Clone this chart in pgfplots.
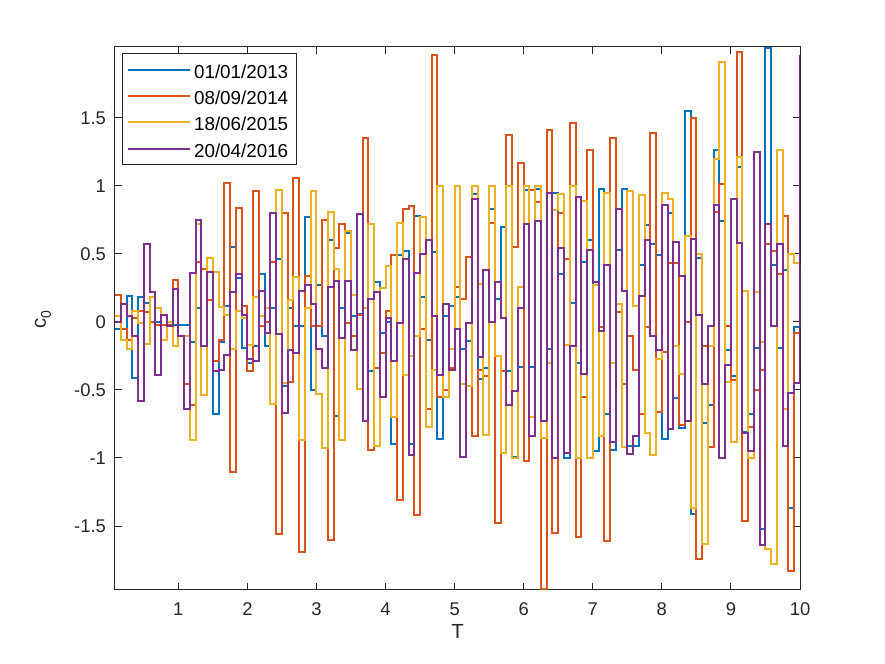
\documentclass[border=0pt]{standalone}
\usepackage{fontspec}
\setmainfont{Liberation Sans}
\usepackage{pgfplots}
\usepackage{pgfplotstable}
\pgfplotsset{compat=1.18}
\definecolor{mblue}{rgb}{0,0.447,0.741}
\definecolor{morange}{rgb}{0.85,0.325,0.098}
\definecolor{myellow}{rgb}{0.929,0.694,0.125}
\definecolor{mpurple}{rgb}{0.494,0.184,0.556}
\definecolor{axgray}{rgb}{0.15,0.15,0.15}
\pgfplotstableread{
x b o y p
0.0833 -0.05 0.20 0.04 0.00
0.1667 -0.05 -0.05 -0.13 0.13
0.25 0.19 -0.13 -0.20 0.04
0.3333 -0.41 0.03 0.08 -0.10
0.4167 0.18 0.08 -0.01 -0.58
0.5 0.14 0.07 -0.16 0.57
0.5833 0.00 0.00 0.18 0.22
0.6667 0.00 -0.02 0.10 -0.39
0.75 -0.02 -0.02 -0.13 0.05
0.8333 -0.02 -0.02 0.00 -0.03
0.9167 -0.02 0.31 -0.18 0.24
1 -0.02 -0.10 -0.10 -0.10
1.0833 -0.02 -0.46 -0.10 -0.64
1.1667 -0.15 -0.61 -0.87 0.36
1.25 0.10 0.44 0.72 0.75
1.3333 0.39 0.39 -0.54 -0.18
1.4167 0.47 0.16 0.47 0.37
1.5 -0.68 -0.29 0.37 -0.36
1.5833 -0.15 -0.13 0.11 -0.35
1.6667 0.12 1.02 0.05 -0.24
1.75 0.55 -1.10 -0.20 0.22
1.8333 0.32 0.84 0.08 0.35
1.9167 -0.19 0.12 0.03 0.05
2 -0.30 -0.36 -0.17 -0.27
2.0833 -0.18 0.96 0.18 -0.29
2.1667 0.35 -0.03 0.04 0.23
2.25 -0.18 0.00 0.10 -0.08
2.3333 0.10 0.44 -0.60 0.80
2.4167 0.46 -1.56 0.97 -0.09
2.5 -0.47 0.80 -0.45 -0.67
2.5833 0.10 -0.44 0.16 -0.21
2.6667 -0.03 1.06 0.33 -0.23
2.75 -0.03 -1.69 -0.87 0.23
2.8333 0.77 0.34 0.10 0.27
2.9167 -0.50 -0.03 0.96 0.13
3 0.27 -0.03 -0.53 -0.20
3.0833 -0.10 0.75 -0.93 -0.34
3.1667 0.60 -1.60 0.81 0.26
3.25 -0.69 0.54 0.39 0.30
3.3333 0.10 0.72 -0.87 -0.12
3.4167 0.65 -0.01 0.67 0.30
3.5 0.04 -0.10 0.20 -0.21
3.5833 0.06 0.05 -0.49 0.79
3.6667 0.10 1.35 0.10 -0.73
3.75 -0.36 -0.94 0.72 0.17
3.8333 0.29 -0.34 -0.91 0.22
3.9167 -0.08 -0.23 0.25 -0.55
4 0.00 0.08 0.41 0.03
4.0833 -0.90 0.49 -0.70 -0.29
4.1667 0.49 -1.31 0.73 -0.01
4.25 0.52 0.83 -0.39 0.46
4.3333 -0.90 0.85 -0.25 -0.98
4.4167 0.78 -1.42 -0.10 0.36
4.5 0.18 -0.05 0.77 0.50
4.5833 -0.13 -0.64 -0.77 0.60
4.6667 0.51 1.96 -0.35 0.04
4.75 -0.86 -0.55 1.00 -0.39
4.8333 0.04 -0.50 -0.55 0.13
4.9167 0.12 -0.34 -0.20 -0.35
5 0.18 0.26 1.00 -0.05
5.0833 -0.20 0.17 -0.46 -0.99
5.1667 -0.14 0.48 -0.47 -0.01
5.25 0.94 -0.84 1.00 0.90
5.3333 -0.42 -0.35 0.28 -0.26
5.4167 -0.34 -0.40 -0.83 0.38
5.5 0.83 0.73 1.00 0.00
5.5833 0.17 -1.48 -0.25 0.29
5.6667 0.70 -0.36 -0.96 0.03
5.75 -0.36 1.37 1.00 -0.61
5.8333 -0.99 0.55 -1.00 -0.51
5.9167 -0.33 1.17 0.26 0.10
6 0.97 -1.02 1.00 0.72
6.0833 -0.33 0.97 -0.70 -0.84
6.1667 0.98 0.88 1.00 0.74
6.25 -0.85 -1.96 -0.85 -0.73
6.3333 -0.20 1.41 -0.30 0.95
6.4167 0.95 -1.55 0.82 -1.00
6.5 0.35 0.80 0.94 0.54
6.5833 -1.00 0.46 -0.17 -0.96
6.6667 0.14 1.46 1.00 -0.18
6.75 -0.30 -1.58 -1.00 0.92
6.8333 0.44 -0.55 0.89 -0.38
6.9167 0.60 1.26 -1.00 0.53
7 -0.95 0.29 0.27 0.29
7.0833 0.98 -0.04 -0.84 -0.07
7.1667 -0.68 -1.61 0.95 0.42
7.25 -0.94 1.35 -0.30 -0.88
7.3333 0.53 0.07 0.13 0.83
7.4167 0.98 -0.46 -0.92 0.23
7.5 -0.91 -0.10 0.96 -0.97
7.5833 -0.91 -0.35 0.12 -0.84
7.6667 0.42 -0.68 0.93 0.19
7.75 0.71 -0.04 -0.82 0.60
7.8333 0.57 1.39 -0.98 -0.10
7.9167 0.49 -0.66 -0.27 -0.21
8 -0.86 -0.22 0.95 0.86
8.0833 0.80 0.43 0.90 -0.79
8.1667 -0.56 0.43 -0.18 0.59
8.25 -0.78 -0.76 -0.38 0.34
8.3333 1.55 0.00 0.63 -0.73
8.4167 -1.41 1.50 -1.37 0.61
8.5 0.47 -1.74 0.50 0.05
8.5833 -0.74 -0.18 -1.63 -0.46
8.6667 -0.61 -0.92 -0.18 -0.03
8.75 1.26 0.81 1.20 0.86
8.8333 0.74 1.01 1.91 -1.00
8.9167 -0.21 -0.03 -0.44 -0.32
9 -0.40 -0.43 -0.88 0.90
9.0833 1.14 1.98 1.21 0.58
9.1667 -0.81 -1.46 0.23 -0.82
9.25 -0.68 -0.77 -1.00 -0.95
9.3333 -0.19 -0.50 0.22 1.25
9.4167 -1.52 -0.35 -0.15 -1.64
9.5 2.01 0.57 -1.67 0.72
9.5833 0.42 0.52 -1.78 -0.03
9.6667 -0.19 0.35 1.26 0.57
9.75 0.38 0.78 -0.64 -0.91
9.8333 -1.37 -1.83 0.50 -0.52
9.9167 -0.04 -0.08 0.43 -0.45
10 0.42 -0.30 -0.05 1.96
}\data
\begin{document}
\begin{tikzpicture}
\useasboundingbox (0,0) rectangle (442.5pt,332pt);
\begin{axis}[
  at={(57.5pt,37pt)}, anchor=south west,
  scale only axis, width=342.5pt, height=271.5pt,
  xmin=0.0833, xmax=10, ymin=-1.97, ymax=2.02,
  axis line style={axgray, line width=0.5pt},
  tick align=inside, major tick length=3.5pt,
  tick style={axgray, line width=0.5pt},
  xtick={1,2,3,4,5,6,7,8,9,10},
  xticklabels={1,2,3,4,5,6,7,8,9,10},
  ytick={-1.5,-1,-0.5,0,0.5,1,1.5},
  yticklabels={-1.5,-1,-0.5,0,0.5,1,1.5},
  ticklabel style={font=\fontsize{9.2}{10}\selectfont, text=axgray},
  xticklabel style={anchor=center, yshift=-9.5pt},
  yticklabel style={anchor=east, xshift=-1pt},
  xlabel={T},
  xlabel style={at={(axis description cs:0.5,-0.0773)}, anchor=center, font=\fontsize{10.2}{12}\selectfont, text=axgray},
  every axis plot/.append style={line width=1pt, const plot},
  legend style={at={(0,1)}, anchor=north west, xshift=3.3pt, yshift=-3.2pt,
    draw=axgray, line width=0.5pt, fill=white,
    font=\fontsize{9.4}{10}\selectfont,
    inner xsep=2.5pt, inner ysep=1.35pt, row sep=0pt,
    nodes={text height=8.8pt, text depth=0.35pt, inner ysep=2pt, inner xsep=1.5pt},
    cells={anchor=west}},
  legend image code/.code={\draw[#1, line width=1pt] (0pt,0pt) -- (31pt,0pt);},
]
\addplot[mblue] table[x=x, y=b] {\data};
\addplot[morange] table[x=x, y=o] {\data};
\addplot[myellow] table[x=x, y=y] {\data};
\addplot[mpurple] table[x=x, y=p] {\data};
\legend{01/01/2013, 08/09/2014, 18/06/2015, 20/04/2016}
\end{axis}
\node[rotate=90, anchor=center, inner sep=0pt, font=\fontsize{10.2}{12}\selectfont, text=axgray]
  at (21.5pt,172pt) {c\raisebox{-0.45ex}{\fontsize{7}{8}\selectfont 0}};
\end{tikzpicture}
\end{document}
